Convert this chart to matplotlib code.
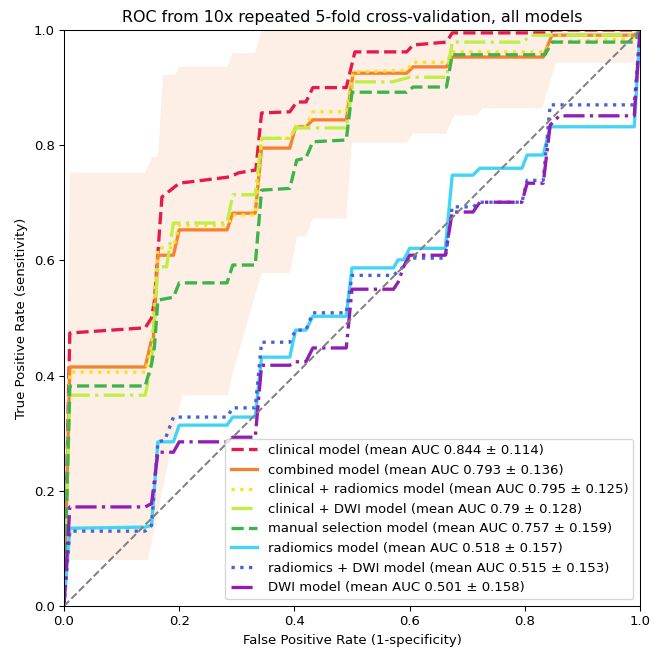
import numpy as np
import matplotlib
matplotlib.use("Agg")
import matplotlib.pyplot as plt

# mean ROC curves (fpr, tpr)
clinical_fpr = [0, 0.0101, 0.141, 0.152, 0.157, 0.17, 0.2, 0.288, 0.303, 0.333, 0.343, 0.392, 0.404, 0.42, 0.432, 0.49, 0.505, 0.595, 0.606, 0.664, 0.674, 0.84, 0.85, 1.0]
clinical_tpr = [0, 0.474, 0.483, 0.50, 0.53, 0.71, 0.734, 0.745, 0.752, 0.757, 0.856, 0.858, 0.875, 0.875, 0.9, 0.9, 0.962, 0.962, 0.974, 0.979, 0.995, 0.995, 1.0, 1.0]

combined_fpr = [0, 0.0101, 0.141, 0.152, 0.155, 0.163, 0.19, 0.2, 0.283, 0.293, 0.332, 0.343, 0.392, 0.402, 0.42, 0.432, 0.49, 0.502, 0.595, 0.606, 0.664, 0.674, 0.832, 0.847, 0.99, 1.0]
combined_tpr = [0, 0.415, 0.415, 0.462, 0.462, 0.609, 0.609, 0.653, 0.653, 0.682, 0.682, 0.795, 0.795, 0.832, 0.832, 0.844, 0.844, 0.925, 0.925, 0.936, 0.936, 0.953, 0.953, 0.991, 0.991, 1.0]

clin_rad_fpr = [0, 0.0101, 0.141, 0.152, 0.163, 0.19, 0.2, 0.283, 0.293, 0.332, 0.343, 0.392, 0.402, 0.42, 0.432, 0.49, 0.502, 0.595, 0.606, 0.664, 0.674, 0.835, 0.847, 0.99, 1.0]
clin_rad_tpr = [0, 0.406, 0.406, 0.45, 0.622, 0.622, 0.661, 0.661, 0.679, 0.679, 0.812, 0.812, 0.832, 0.832, 0.858, 0.858, 0.927, 0.93, 0.944, 0.944, 0.962, 0.962, 0.979, 0.985, 1.0]

clin_dwi_fpr = [0, 0.0101, 0.141, 0.152, 0.163, 0.178, 0.19, 0.283, 0.293, 0.332, 0.343, 0.392, 0.402, 0.49, 0.502, 0.57, 0.6, 0.664, 0.674, 0.797, 0.81, 0.99, 1.0]
clin_dwi_tpr = [0, 0.366, 0.366, 0.42, 0.589, 0.589, 0.665, 0.665, 0.714, 0.714, 0.812, 0.812, 0.83, 0.83, 0.91, 0.91, 0.918, 0.918, 0.979, 0.979, 0.991, 0.991, 1.0]

manual_fpr = [0, 0.0101, 0.141, 0.152, 0.157, 0.163, 0.19, 0.2, 0.283, 0.293, 0.332, 0.343, 0.392, 0.404, 0.42, 0.432, 0.49, 0.5, 0.595, 0.606, 0.664, 0.674, 0.835, 0.847, 0.99, 1.0]
manual_tpr = [0, 0.382, 0.382, 0.42, 0.45, 0.531, 0.536, 0.561, 0.561, 0.592, 0.592, 0.722, 0.725, 0.774, 0.778, 0.806, 0.809, 0.892, 0.892, 0.901, 0.901, 0.957, 0.957, 0.979, 0.979, 1.0]

radiomics_fpr = [0, 0.0101, 0.141, 0.152, 0.163, 0.19, 0.2, 0.283, 0.293, 0.332, 0.343, 0.392, 0.402, 0.42, 0.432, 0.49, 0.5, 0.572, 0.58, 0.59, 0.6, 0.662, 0.674, 0.71, 0.722, 0.795, 0.804, 0.832, 0.844, 0.99, 1.0]
radiomics_tpr = [0, 0.135, 0.137, 0.14, 0.285, 0.285, 0.314, 0.314, 0.328, 0.328, 0.432, 0.432, 0.479, 0.479, 0.503, 0.503, 0.587, 0.587, 0.601, 0.601, 0.621, 0.621, 0.748, 0.748, 0.76, 0.76, 0.783, 0.783, 0.832, 0.832, 1.0]

rad_dwi_fpr = [0, 0.0101, 0.141, 0.152, 0.163, 0.175, 0.19, 0.283, 0.293, 0.332, 0.343, 0.392, 0.402, 0.42, 0.432, 0.49, 0.5, 0.572, 0.59, 0.6, 0.662, 0.674, 0.71, 0.722, 0.795, 0.804, 0.832, 0.844, 0.99, 1.0]
rad_dwi_tpr = [0, 0.13, 0.13, 0.14, 0.285, 0.288, 0.328, 0.328, 0.344, 0.344, 0.458, 0.458, 0.479, 0.479, 0.509, 0.509, 0.574, 0.574, 0.59, 0.604, 0.604, 0.693, 0.693, 0.701, 0.701, 0.739, 0.739, 0.87, 0.87, 1.0]

dwi_fpr = [0, 0.0101, 0.141, 0.152, 0.163, 0.19, 0.2, 0.283, 0.293, 0.332, 0.343, 0.392, 0.402, 0.42, 0.432, 0.49, 0.5, 0.572, 0.58, 0.59, 0.6, 0.662, 0.674, 0.71, 0.722, 0.795, 0.804, 0.832, 0.844, 0.86, 0.99, 1.0]
dwi_tpr = [0, 0.172, 0.172, 0.178, 0.267, 0.267, 0.285, 0.285, 0.293, 0.293, 0.418, 0.418, 0.424, 0.424, 0.448, 0.448, 0.55, 0.55, 0.562, 0.59, 0.609, 0.609, 0.684, 0.684, 0.701, 0.701, 0.734, 0.734, 0.835, 0.851, 0.851, 1.0]

# +/- 1 std band (combined model)
band_up_fpr = [0, 0.0101, 0.141, 0.153, 0.163, 0.172, 0.193, 0.2, 0.283, 0.293, 0.332, 0.343, 1.0]
band_up_tpr = [0, 0.752, 0.752, 0.78, 0.78, 0.922, 0.922, 0.936, 0.936, 0.96, 0.96, 1.0, 1.0]
band_lo_fpr = [0, 0.0101, 0.146, 0.205, 0.285, 0.293, 0.343, 0.392, 0.405, 0.42, 0.432, 0.49, 0.5, 0.595, 0.606, 0.663, 0.678, 0.717, 0.727, 0.83, 0.845, 0.855, 0.99, 1.0]
band_lo_tpr = [0, 0.08, 0.08, 0.366, 0.366, 0.404, 0.578, 0.578, 0.641, 0.641, 0.673, 0.673, 0.804, 0.804, 0.82, 0.82, 0.852, 0.852, 0.864, 0.864, 0.913, 0.943, 0.943, 1.0]

labels = ["clinical model (mean AUC 0.844 ± 0.114)",
          "combined model (mean AUC 0.793 ± 0.136)",
          "clinical + radiomics model (mean AUC 0.795 ± 0.125)",
          "clinical + DWI model (mean AUC 0.79 ± 0.128)",
          "manual selection model (mean AUC 0.757 ± 0.159)",
          "radiomics model (mean AUC 0.518 ± 0.157)",
          "radiomics + DWI model (mean AUC 0.515 ± 0.153)",
          "DWI model (mean AUC 0.501 ± 0.158)"]
colors = ["#e6194b", "#f58231", "#ffe119", "#bfef45", "#3cb44b", "#42d4f4", "#4363d8", "#911eb4"]
styles = ["--", "-", ":", "-.", "--", "-", ":", "-."]

curves = [(clinical_fpr, clinical_tpr), (combined_fpr, combined_tpr),
          (clin_rad_fpr, clin_rad_tpr), (clin_dwi_fpr, clin_dwi_tpr),
          (manual_fpr, manual_tpr), (radiomics_fpr, radiomics_tpr),
          (rad_dwi_fpr, rad_dwi_tpr), (dwi_fpr, dwi_tpr)]

DPI = 95
fig = plt.figure(figsize=(666 / DPI, 648 / DPI), dpi=DPI)
ax = fig.add_subplot(111)
fig.subplots_adjust(left=0.0961, right=0.961, top=0.9537, bottom=0.0648)

# band polygon: upper edge then lower edge reversed
poly_x = band_up_fpr + band_lo_fpr[::-1]
poly_y = band_up_tpr + band_lo_tpr[::-1]
ax.fill(poly_x, poly_y, color="#f58231", alpha=0.12, lw=0)

for (x, y), lab, c, ls in zip(curves, labels, colors, styles):
    ax.plot(x, y, ls, color=c, lw=2.5, label=lab)

ax.plot([0, 1], [0, 1], "--", color="gray", lw=1.5)

ax.set_xlim(0, 1)
ax.set_ylim(0, 1)
ax.set_xlabel("False Positive Rate (1-specificity)")
ax.set_ylabel("True Positive Rate (sensitivity)")
ax.set_title("ROC from 10x repeated 5-fold cross-validation, all models", fontsize=12)
ax.legend(loc="lower right", fontsize=10)

fig.savefig("out.png", dpi=DPI)
